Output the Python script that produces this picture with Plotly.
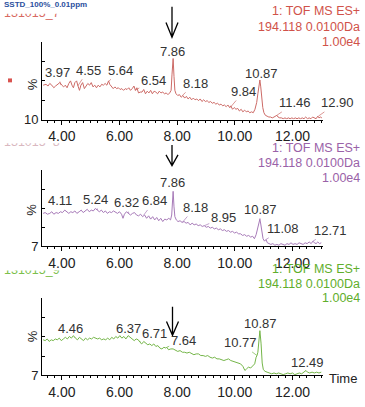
import plotly.graph_objects as go

# ---------------- data ----------------
trace1 = [(3.35,50),(3.45,51),(3.52,49),(3.58,52),(3.65,50),(3.72,47),(3.78,49),(3.85,51),(3.93,53),(4.00,50),
          (4.06,48),(4.12,50),(4.18,47),(4.24,52),(4.30,55),(4.35,50),(4.40,47),(4.45,53),(4.51,55),(4.56,49),
          (4.61,44),(4.66,50),(4.72,53),(4.78,46),(4.84,49),(4.90,52),(4.96,50),(5.02,53),(5.08,48),(5.14,50),
          (5.20,47),(5.26,50),(5.32,48),(5.38,51),(5.44,50),(5.50,52),(5.56,50),(5.62,55),(5.66,51),(5.72,48),
          (5.78,46),(5.84,48),(5.90,46),(5.96,47),(6.02,45),(6.08,46),(6.14,44),(6.20,46),(6.26,45),(6.32,47),
          (6.38,44),(6.44,46),(6.50,49),(6.55,44),(6.60,47),(6.66,41),(6.72,42),(6.78,42),(6.84,45),(6.90,40),
          (6.96,43),(7.02,41),(7.08,44),(7.14,40),(7.20,43),(7.26,42),(7.32,40),(7.38,43),(7.44,41),(7.50,42),
          (7.56,40),(7.62,41),(7.68,39),(7.74,41),(7.79,44),(7.82,62),(7.86,81),(7.89,60),(7.92,44),(7.96,40),
          (8.02,38),(8.08,39),(8.14,36),(8.20,38),(8.26,35),(8.32,37),(8.38,34),(8.44,36),(8.50,33),(8.56,35),
          (8.62,33),(8.68,34),(8.74,32),(8.80,34),(8.86,31),(8.92,33),(8.98,31),(9.04,32),(9.10,30),(9.16,31),
          (9.22,29),(9.28,30),(9.34,28),(9.40,29),(9.46,27),(9.52,28),(9.58,26),(9.64,27),(9.70,25),(9.76,27),
          (9.82,24),(9.86,26),(9.92,22),(9.98,24),(10.04,22),(10.10,23),(10.16,20),(10.22,22),(10.28,19),(10.34,21),
          (10.40,19),(10.46,20),(10.52,18),(10.58,19),(10.64,18),(10.70,22),(10.76,30),(10.80,40),(10.84,52),(10.87,56),
          (10.90,48),(10.93,35),(10.97,24),(11.01,18),(11.06,15),(11.12,14),(11.18,13),(11.24,13),(11.30,12),(11.36,13),
          (11.42,14),(11.46,15),(11.50,13),(11.56,12),(11.62,12),(11.68,11),(11.74,12),(11.80,11),(11.86,12),(11.92,11),
          (11.98,12),(12.04,11),(12.10,12),(12.16,11),(12.22,12),(12.28,11),(12.34,12),(12.40,11),(12.46,13),(12.52,11),
          (12.58,12),(12.64,11),(12.70,13),(12.76,12),(12.82,11),(12.88,14),(12.92,12),(12.97,13),(13.02,12)]

trace2 = [(3.35,47),(3.42,48),(3.50,46),(3.58,47),(3.65,49),(3.72,46),(3.80,48),(3.88,47),(3.95,49),(4.02,48),
          (4.10,51),(4.17,49),(4.24,47),(4.31,49),(4.38,48),(4.45,50),(4.52,47),(4.60,49),(4.67,51),(4.74,48),
          (4.81,50),(4.88,52),(4.95,49),(5.02,51),(5.09,50),(5.16,53),(5.23,51),(5.30,49),(5.37,51),(5.44,48),
          (5.51,50),(5.58,47),(5.65,49),(5.72,48),(5.79,50),(5.86,48),(5.93,47),(6.00,49),(6.07,46),(6.12,41),
          (6.17,46),(6.24,49),(6.31,47),(6.38,45),(6.45,47),(6.52,48),(6.59,45),(6.66,44),(6.73,46),(6.80,43),
          (6.87,45),(6.94,41),(7.01,44),(7.08,40),(7.15,43),(7.22,39),(7.29,42),(7.36,38),(7.43,41),(7.50,37),
          (7.57,40),(7.64,39),(7.71,41),(7.77,39),(7.81,45),(7.84,65),(7.86,74),(7.89,55),(7.92,43),(7.97,39),
          (8.03,37),(8.10,38),(8.17,36),(8.24,37),(8.31,35),(8.38,36),(8.45,33),(8.52,35),(8.59,33),(8.66,34),
          (8.73,32),(8.80,33),(8.87,31),(8.94,32),(9.01,30),(9.08,31),(9.15,29),(9.22,30),(9.29,28),(9.36,29),
          (9.43,27),(9.50,28),(9.57,26),(9.64,27),(9.71,25),(9.78,26),(9.85,24),(9.92,25),(9.99,23),(10.06,24),
          (10.13,22),(10.20,22),(10.27,20),(10.34,21),(10.41,19),(10.48,20),(10.55,18),(10.62,19),(10.68,16),(10.74,21),
          (10.79,28),(10.84,36),(10.87,40),(10.90,34),(10.94,24),(10.98,16),(11.03,13),(11.08,15),(11.13,11),(11.19,10),
          (11.25,9),(11.32,10),(11.39,8),(11.46,9),(11.53,8),(11.60,10),(11.67,9),(11.74,8),(11.81,10),(11.88,9),
          (11.95,11),(12.02,9),(12.09,10),(12.16,9),(12.23,11),(12.30,10),(12.37,9),(12.44,11),(12.51,10),(12.58,12),
          (12.65,10),(12.71,13),(12.76,11),(12.82,10),(12.88,12),(12.94,10),(13.00,11)]

trace3 = [(3.35,50),(3.42,49),(3.49,51),(3.56,48),(3.63,50),(3.70,49),(3.77,51),(3.84,50),(3.91,52),(3.98,49),
          (4.05,51),(4.12,53),(4.19,51),(4.26,54),(4.33,52),(4.40,55),(4.47,52),(4.54,50),(4.61,53),(4.68,51),
          (4.75,49),(4.82,52),(4.89,50),(4.96,52),(5.03,51),(5.10,53),(5.17,52),(5.24,51),(5.31,52),(5.38,50),
          (5.45,51),(5.52,50),(5.59,52),(5.66,50),(5.73,53),(5.80,51),(5.87,54),(5.94,52),(6.01,55),(6.08,52),
          (6.15,54),(6.22,51),(6.30,55),(6.37,53),(6.44,51),(6.51,49),(6.58,51),(6.65,50),(6.71,47),(6.77,45),
          (6.84,48),(6.91,46),(6.98,44),(7.05,45),(7.12,43),(7.19,45),(7.26,42),(7.33,43),(7.40,40),(7.47,39),
          (7.54,41),(7.61,40),(7.64,41),(7.70,38),(7.78,39),(7.86,39),(7.94,37),(8.02,36),(8.10,37),(8.18,35),
          (8.26,35),(8.34,34),(8.42,35),(8.50,33),(8.58,32),(8.66,33),(8.74,33),(8.82,31),(8.90,31),(8.98,30),
          (9.06,31),(9.14,29),(9.22,28),(9.30,29),(9.38,27),(9.46,27),(9.54,26),(9.62,25),(9.70,26),(9.78,27),
          (9.86,25),(9.95,24),(10.03,23),(10.12,22),(10.20,21),(10.28,18),(10.35,13),(10.41,15),(10.47,17),(10.55,16),
          (10.62,19),(10.69,21),(10.74,29),(10.77,31),(10.80,35),(10.84,50),(10.87,61),(10.91,46),(10.95,22),(10.99,14),
          (11.05,12),(11.12,11),(11.20,10),(11.28,9),(11.36,10),(11.44,9),(11.52,10),(11.60,9),(11.68,8),(11.76,9),
          (11.84,10),(11.92,9),(12.00,10),(12.08,8),(12.16,9),(12.24,10),(12.32,9),(12.40,11),(12.47,13),(12.52,11),
          (12.60,10),(12.68,11),(12.76,10),(12.84,11),(12.92,10),(13.00,11)]

peaks1 = ["3.97", "4.55", "5.64", "6.54", "7.86", "8.18", "9.84", "10.87", "11.46", "12.90"]
peaks2 = ["4.11", "5.24", "6.32", "6.84", "7.86", "8.18", "8.95", "10.87", "11.08", "12.71"]
peaks3 = ["4.46", "6.37", "6.71", "7.64", "10.77", "10.87", "12.49"]

x_ticks = [4, 6, 8, 10, 12]
y_floor = [10, 7, 7]
sample_ids = ["131015_7", "131015_8", "131015_9"]
header = ["1: TOF MS ES+", "194.118 0.0100Da", "1.00e4"]
title_text = "SSTD_100%_0.01ppm"

# ---------------- styling / placement ----------------
W, H = 365, 407
def px(x): return x / W
def py(y): return 1 - y / H

line_cols = ["#cc6a66", "#a77ab8", "#74b548"]
text_cols = ["#d0524a", "#9a62a8", "#5fae2c"]
cut_cols = ["#d86a62", "#d9b8c0", "#7cbf4c"]
FONT = "Liberation Sans, Arial, sans-serif"

# label centre positions (time, value) for each peak label
lab_pos = [
    [(3.84, 64.7), (4.91, 67.3), (6.05, 67.3), (7.17, 55.9), (7.84, 88.6), (8.62, 52.1),
     (10.31, 42.7), (10.93, 63.5), (12.09, 29.4), (13.55, 29.4)],
    [(3.95, 62.2), (5.15, 64.2), (6.25, 60.2), (7.21, 62.2), (7.84, 84.2), (8.62, 54.2),
     (9.60, 42.2), (10.90, 52.2), (11.68, 28.2), (13.33, 26.2)],
    [(4.30, 63.5), (6.30, 63.5), (7.23, 57.6), (8.21, 49.7), (10.18, 46.2), (10.90, 69.4),
     (12.52, 23.1)],
]
panel_px = [(43, 122), (173.5, 251), (304.3, 383)]   # top, bottom pixel of each y axis
head_y = [(11.7, 27.3, 43.3), (151, 166.3, 181.7), (274.5, 289.3, 303.5)]
cut_y = [(14, 8), (146, 4), (276, 7)]
arrows = [(172, 7, 38, 23), (172, 148, 169, 158), (172.5, 313, 342, 328)]
pct_y = [86, 214, 343]

fig = go.Figure()
traces = [trace1, trace2, trace3]
peaks = [peaks1, peaks2, peaks3]
annotations = []
shapes = []
layout = {}

def nearest(tr, t):
    return min(tr, key=lambda p: abs(p[0] - t))[1]

for i in range(3):
    n = "" if i == 0 else str(i + 1)
    xa, ya = "x" + n, "y" + n
    tr = traces[i]
    fig.add_trace(go.Scatter(x=[p[0] for p in tr], y=[p[1] for p in tr], mode="lines",
                             line=dict(color=line_cols[i], width=1), xaxis=xa, yaxis=ya,
                             showlegend=False, hoverinfo="skip"))
    top, bot = panel_px[i]
    lo = y_floor[i]
    layout["xaxis" + n] = dict(domain=[px(42), px(323)], anchor=ya, range=[3.31, 13.06],
                               showline=True, linecolor="black", linewidth=1, ticks="outside",
                               ticklen=4, tickcolor="black", tickvals=x_ticks,
                               ticktext=["%.2f" % v for v in x_ticks],
                               tickfont=dict(family=FONT, size=14, color="#222"),
                               minor=dict(dtick=0.25, tick0=0, ticks="outside", ticklen=2, tickcolor="black"),
                               showgrid=False, zeroline=False, fixedrange=True)
    layout["yaxis" + n] = dict(domain=[py(bot), py(top)], anchor=xa, range=[lo, 100],
                               showline=True, linecolor="black", linewidth=1, ticks="inside",
                               ticklen=3, tickcolor="black",
                               tickvals=[lo, lo + (100 - lo) / 4, lo + (100 - lo) / 2, lo + 3 * (100 - lo) / 4, 100],
                               ticktext=[str(lo), "", "", "", ""],
                               tickfont=dict(family=FONT, size=13, color="#222"),
                               showgrid=False, zeroline=False, fixedrange=True)
    # peak labels
    for lab, (lt, lv) in zip(peaks[i], lab_pos[i]):
        pt = float(lab)
        annotations.append(dict(x=pt, y=nearest(tr, pt), xref=xa, yref=ya, ax=lt, ay=lv,
                                axref=xa, ayref=ya, text=lab, showarrow=True, arrowhead=0,
                                arrowwidth=0.7, arrowcolor=line_cols[i], standoff=0,
                                font=dict(family=FONT, size=13, color="#333")))
    # header lines
    for txt, yy in zip(header, head_y[i]):
        annotations.append(dict(x=px(362), y=py(yy), xref="paper", yref="paper", text=txt,
                                showarrow=False, xanchor="right", yanchor="middle",
                                font=dict(family=FONT, size=12.5, color=text_cols[i])))
    # % label
    annotations.append(dict(x=px(32), y=py(pct_y[i]), xref="paper", yref="paper", text="%",
                            showarrow=False, textangle=-90, xanchor="center", yanchor="middle",
                            font=dict(family=FONT, size=13, color="#222")))
    # down arrows
    ax_, y0, y1, yw = arrows[i]
    shapes.append(dict(type="path", xref="paper", yref="paper",
                       path="M %f,%f L %f,%f M %f,%f L %f,%f L %f,%f" % (
                           px(ax_), py(y0), px(ax_), py(y1),
                           px(ax_ - 6), py(yw), px(ax_), py(y1), px(ax_ + 6), py(yw)),
                       line=dict(color="black", width=1.3)))
    # clipped sample-id text (only lower part visible)
    k = str(i + 4)
    cy, vis = cut_y[i]
    fig.add_trace(go.Scatter(x=[0], y=[1], mode="text", text=[sample_ids[i]],
                             textposition="middle right", cliponaxis=True,
                             textfont=dict(family=FONT, size=12.5, color=cut_cols[i]),
                             xaxis="x" + k, yaxis="y" + k, showlegend=False, hoverinfo="skip"))
    layout["xaxis" + k] = dict(domain=[px(4), px(120)], range=[0, 1], visible=False, anchor="y" + k)
    layout["yaxis" + k] = dict(domain=[py(cy + vis), py(cy)], range=[0, 1], visible=False,
                               anchor="x" + k)

annotations.append(dict(x=px(2), y=py(5), xref="paper", yref="paper", text="<b>" + title_text + "</b>",
                        showarrow=False, xanchor="left", yanchor="middle",
                        font=dict(family=FONT, size=8, color="#2b4f9e")))
annotations.append(dict(x=px(343), y=py(386), xref="paper", yref="paper", text="Time",
                        showarrow=False, xanchor="center", yanchor="middle",
                        font=dict(family=FONT, size=13, color="#222")))
shapes.append(dict(type="rect", xref="paper", yref="paper", x0=px(8), x1=px(12), y0=py(84), y1=py(80),
                   fillcolor="#d9534f", line=dict(width=0)))

fig.update_layout(width=W, height=H, margin=dict(l=0, r=0, t=0, b=0),
                  paper_bgcolor="white", plot_bgcolor="white",
                  annotations=annotations, shapes=shapes, **layout)
fig.write_html("out.html", config={"displayModeBar": False},
               post_script="document.body.style.margin='0';document.body.style.overflow='hidden';")
